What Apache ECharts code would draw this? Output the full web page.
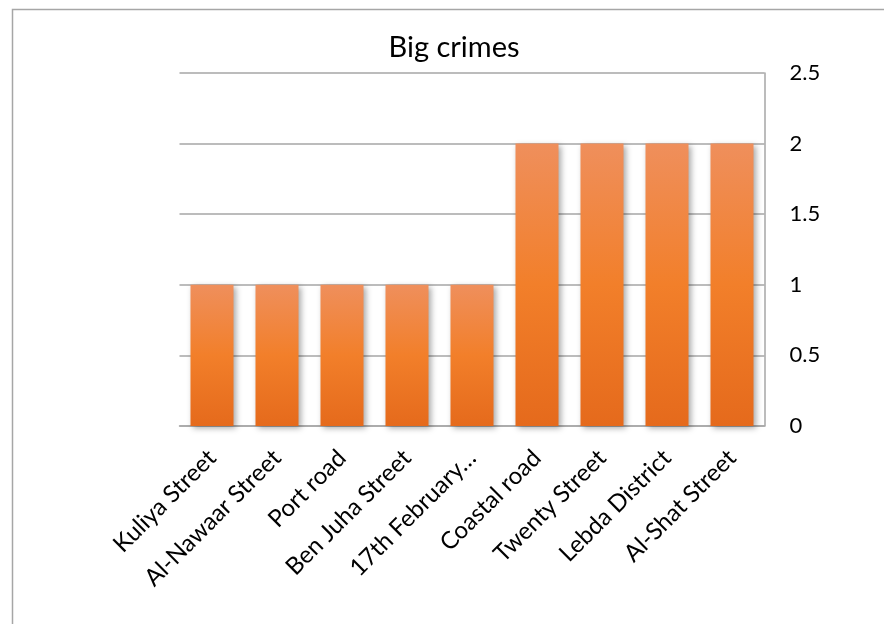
<!DOCTYPE html>
<html>
<head>
<meta charset="utf-8">
<script src="https://cdn.jsdelivr.net/npm/echarts@6/dist/echarts.min.js"></script>
<style>
  html, body { margin: 0; padding: 0; background: #fff; }
  #chart { width: 884px; height: 624px; }
</style>
</head>
<body>
<div id="chart"></div>
<script>
// Street names along the category axis
const streets = [
  'Kuliya Street', 'Al-Nawaar Street', 'Port road', 'Ben Juha Street',
  '17th February…', 'Coastal road', 'Twenty Street', 'Lebda District', 'Al-Shat Street'
];
// Number of big crimes per street
const bigCrimes = [1, 1, 1, 1, 1, 2, 2, 2, 2];
// Value axis range
const yMin = 0;
const yMax = 2.5;
const yStep = 0.5;

const chart = echarts.init(document.getElementById('chart'), null, { renderer: 'canvas' });

const fontFamily = 'Lato, "Open Sans", "Noto Sans", sans-serif';

chart.setOption({
  animation: false,
  backgroundColor: '#ffffff',
  graphic: [{
    type: 'rect',
    left: 10, top: 7,
    shape: { width: 900, height: 650 },
    style: { fill: 'none', stroke: '#a6a6a6', lineWidth: 1.5 },
    silent: true
  }],
  title: {
    text: 'Big crimes',
    left: 449, top: 28,
    textAlign: 'center',
    textStyle: { fontFamily, fontSize: 29, fontWeight: 'normal', color: '#000' }
  },
  grid: { left: 179.5, right: 119.5, top: 73, bottom: 198, containLabel: false },
  xAxis: {
    type: 'category',
    data: streets,
    axisLine: { show: true, lineStyle: { color: '#a6a6a6', width: 1.5 } },
    axisTick: { show: false },
    axisLabel: {
      rotate: 45, interval: 0, margin: 28,
      fontFamily, fontSize: 24, color: '#000'
    }
  },
  yAxis: {
    type: 'value',
    position: 'right',
    min: yMin, max: yMax, interval: yStep,
    axisLine: { show: true, lineStyle: { color: '#a6a6a6', width: 1.5 } },
    axisTick: { show: false },
    splitLine: { show: true, lineStyle: { color: '#a6a6a6', width: 1.5 } },
    axisLabel: { margin: 25, fontFamily, fontSize: 22, color: '#000' }
  },
  series: [{
    type: 'bar',
    data: bigCrimes,
    barWidth: 43,
    itemStyle: {
      color: new echarts.graphic.LinearGradient(0, 0, 0, 1, [
        { offset: 0, color: '#ef8f5c' },
        { offset: 0.5, color: '#f27f2a' },
        { offset: 1, color: '#e56a1c' }
      ]),
      shadowBlur: 6,
      shadowOffsetX: 2,
      shadowOffsetY: 2,
      shadowColor: 'rgba(0,0,0,0.35)'
    }
  }]
});
</script>
</body>
</html>
